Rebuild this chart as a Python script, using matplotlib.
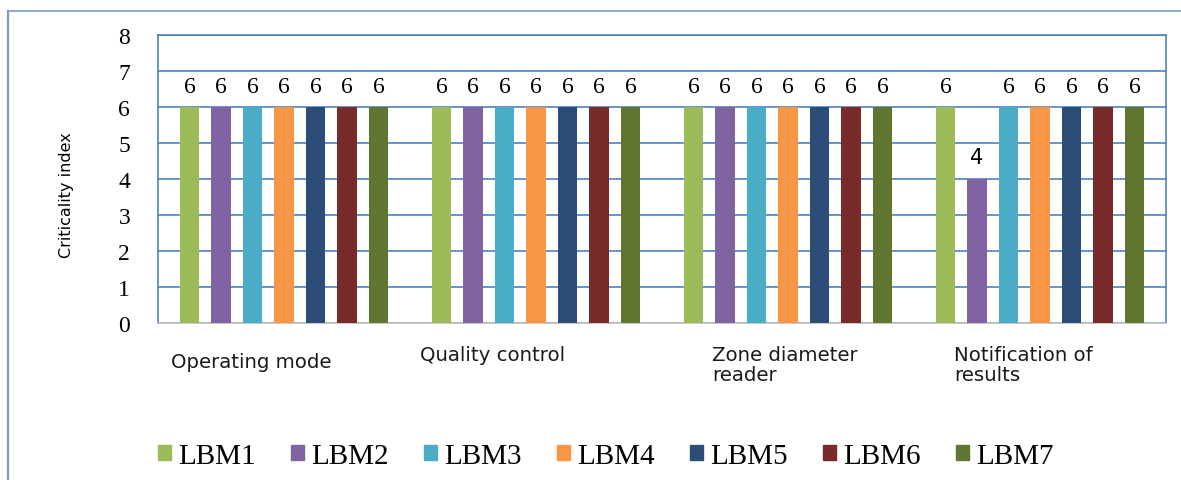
import matplotlib
matplotlib.use("Agg")
import matplotlib.pyplot as plt
import numpy as np
from matplotlib.patches import Rectangle
from matplotlib.lines import Line2D

categories = ["Operating mode", "Quality control", "Zone diameter\nreader", "Notification of\nresults"]
series_names = ["LBM1", "LBM2", "LBM3", "LBM4", "LBM5", "LBM6", "LBM7"]
values = {
    "LBM1": [6, 6, 6, 6],
    "LBM2": [6, 6, 6, 4],
    "LBM3": [6, 6, 6, 6],
    "LBM4": [6, 6, 6, 6],
    "LBM5": [6, 6, 6, 6],
    "LBM6": [6, 6, 6, 6],
    "LBM7": [6, 6, 6, 6],
}
colors = ["#9BBB59", "#8064A2", "#4BACC6", "#F79646", "#2C4D75", "#772C2A", "#5F7530"]
yticks = [0, 1, 2, 3, 4, 5, 6, 7, 8]
label_dx = [-0.45, -0.46, -0.30, -0.34]
label_dy = [2, 7, 7, 7]

W, H = 1181, 481
fig = plt.figure(figsize=(W / 100, H / 100), dpi=100)
fig.patch.set_facecolor("white")

# outer frame (top and left)
fig.add_artist(Line2D([8 / W, 1.0], [1 - 12 / H, 1 - 12 / H], color="#7F9DC4", lw=1.2, transform=fig.transFigure))
fig.add_artist(Line2D([8 / W, 8 / W], [0, 1 - 12 / H], color="#7F9DC4", lw=1.6, transform=fig.transFigure))

ax = fig.add_axes([158 / W, (H - 324) / H, (1166 - 158) / W, 288 / H])
x = np.arange(len(categories))
pitch = 0.125
bw = 0.076
grid_c = "#4F81BD"
for i, name in enumerate(series_names):
    xs = x + (i - 3) * pitch
    ax.bar(xs, values[name], width=bw, color=colors[i], zorder=3, label=name)
    for xi, v in zip(xs, values[name]):
        if v == 6:
            ax.annotate(str(v), (xi, v), xytext=(0, 15), textcoords="offset points",
                        ha="center", va="center", fontsize=17, family="Liberation Serif", color="black")
        else:
            ax.annotate(str(v), (xi, v), xytext=(0, 15.5), textcoords="offset points",
                        ha="center", va="center", fontsize=15, family="DejaVu Sans", color="black")

ax.set_xlim(-0.5, len(categories) - 0.5)
ax.set_ylim(0, 8)
ax.set_yticks(yticks)
ax.set_yticklabels([str(t) for t in yticks], family="Liberation Serif", fontsize=17)
ax.tick_params(axis="y", length=0, pad=20)
ax.set_xticks([])
ax.grid(axis="y", color=grid_c, lw=1.2, zorder=0)
for s in ["left", "top", "right"]:
    ax.spines[s].set_color(grid_c)
    ax.spines[s].set_linewidth(1.2)
ax.spines["bottom"].set_color("#BFBFBF")
ax.spines["bottom"].set_linewidth(1.2)

for i, c in enumerate(categories):
    ax.annotate(c, (i + label_dx[i], 0), xytext=(0, -23 + label_dy[i]), textcoords="offset points",
                ha="left", va="top", fontsize=14.2, family="DejaVu Sans", color="#1a1a1a",
                linespacing=1.05, annotation_clip=False)

fig.text(67 / W, 1 - 195 / H, "Criticality index", rotation=90, ha="center", va="center",
         fontsize=11.5, family="DejaVu Sans")

handles = [Rectangle((0, 0), 1, 1, color=c) for c in colors]
leg = fig.legend(handles, series_names, loc="center", bbox_to_anchor=(606 / W, 1 - 457 / H),
                 ncol=7, frameon=False, prop={"family": "Liberation Serif", "size": 21},
                 handlelength=0.45, handleheight=0.45, handletextpad=0.25, columnspacing=1.2)

fig.savefig("out.png", dpi=100, facecolor="white")
